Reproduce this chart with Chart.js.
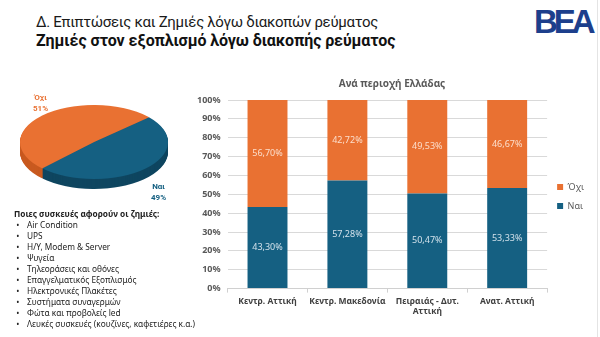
<!DOCTYPE html>
<html>
<head>
<meta charset="utf-8">
<script src="https://cdn.jsdelivr.net/npm/chart.js@4"></script>
<style>
  body { margin: 0; background: #fff; font-family: Roboto, sans-serif; }
  #page { position: relative; width: 600px; height: 337px; overflow: hidden; background: #fff; }
  .abs { position: absolute; white-space: nowrap; }
  #t1 { left: 36px; top: 13px; font-size: 15px; color: #1a1a1a; letter-spacing: -0.3px; }
  #t2 { left: 36px; top: 31px; font-size: 16px; font-weight: bold; color: #111; letter-spacing: -0.1px; }
  #logo { left: 534px; top: 3px; font-size: 33px; font-weight: 900; color: #1d3f8c; letter-spacing: -4px; font-family: "Liberation Sans", sans-serif; }
  #edge { left: 597px; top: 0; width: 1px; height: 337px; background: #e4e4e4; }
  #pieBox { left: 20px; top: 105px; width: 148px; height: 84px; }
  #pieCanvas { transform: scaleY(0.5); transform-origin: 0 0; }
  .plab { font-size: 8px; font-weight: bold; line-height: 11px; text-align: center; }
  #list { left: 14px; top: 208px; font-size: 8.3px; color: #222; font-family: "Noto Sans", sans-serif; }
  #list b { display: block; height: 11px; line-height: 11px; }
  #list div { height: 11px; line-height: 11px; }
  #list span.bul { display: inline-block; width: 13px; }
  #barBox { left: 180px; top: 72px; width: 414px; height: 253px; }
</style>
</head>
<body>
<div id="page">
  <div id="t1" class="abs">Δ. Επιπτώσεις και Ζημιές λόγω διακοπών ρεύματος</div>
  <div id="t2" class="abs">Ζημιές στον εξοπλισμό λόγω διακοπής ρεύματος</div>
  <div id="logo" class="abs">BEA</div>
  <div id="edge" class="abs"></div>

  <div id="pieBox" class="abs"><canvas id="pieCanvas" width="148" height="168"></canvas></div>
  <div class="abs plab" style="left:33px;top:92px;color:#E97132">Όχι<br>51%</div>
  <div class="abs plab" style="left:151px;top:181px;color:#156082">Ναι<br>49%</div>

  <div id="list" class="abs"></div>

  <div id="barBox" class="abs"><canvas id="barCanvas"></canvas></div>
</div>
<script>
// Δεδομένα
const pieLabels = ['Ναι', 'Όχι'];
const pieValues = [49, 51];

const regions = ['Κεντρ. Αττική', 'Κεντρ. Μακεδονία', ['Πειραιάς - Δυτ.', 'Αττική'], 'Ανατ. Αττική'];
const naiValues = [43.30, 57.28, 50.47, 53.33];
const oxiValues = [56.70, 42.72, 49.53, 46.67];

const yTicks = [0, 10, 20, 30, 40, 50, 60, 70, 80, 90, 100];

const devices = [
    'Air Condition',
    'UPS',
    'H/Y, Modem & Server',
    'Ψυγεία',
    'Τηλεοράσεις και οθόνες',
    'Επαγγελματικός Εξοπλισμός',
    'Ηλεκτρονικές Πλακέτες',
    'Συστήματα συναγερμών',
    'Φώτα και προβολείς led',
    'Λευκές συσκευές (κουζίνες, καφετιέρες κ.α.)'
];

const BLUE = '#156082';
const ORANGE = '#E97132';

// λίστα συσκευών
const list = document.getElementById('list');
list.innerHTML = '<b>Ποιες συσκευές αφορούν οι ζημιές:</b>' +
    devices.map(d => `<div><span class="bul">&nbsp;•</span>${d}</div>`).join('');

// 3D πλευρά της πίτας
const pieDepth = {
    id: 'pieDepth',
    beforeDatasetsDraw(chart) {
        const ctx = chart.ctx;
        const meta = chart.getDatasetMeta(0);
        const sideColors = ['#0f4660', '#c95a20'];
        for (let d = 20; d >= 1; d--) {
            meta.data.forEach((arc, i) => {
                const p = arc.getProps(['x', 'y', 'startAngle', 'endAngle', 'outerRadius']);
                ctx.fillStyle = sideColors[i];
                ctx.beginPath();
                ctx.moveTo(p.x, p.y + d);
                ctx.arc(p.x, p.y + d, p.outerRadius, p.startAngle, p.endAngle);
                ctx.closePath();
                ctx.fill();
            });
        }
    }
};

new Chart(document.getElementById('pieCanvas'), {
    type: 'pie',
    data: {
        labels: pieLabels,
        datasets: [{
            data: pieValues,
            backgroundColor: [BLUE, ORANGE],
            borderWidth: 0
        }]
    },
    options: {
        responsive: false,
        animation: false,
        rotation: 48,
        layout: { padding: { bottom: 20 } },
        plugins: { legend: { display: false }, tooltip: { enabled: false } }
    },
    plugins: [pieDepth]
});

// ετικέτες τιμών μέσα στις μπάρες
const barLabels = {
    id: 'barLabels',
    afterDatasetsDraw(chart) {
        const ctx = chart.ctx;
        ctx.save();
        ctx.font = '9px "Noto Sans", sans-serif';
        ctx.textAlign = 'center';
        ctx.textBaseline = 'middle';
        chart.data.datasets.forEach((ds, di) => {
            const meta = chart.getDatasetMeta(di);
            ctx.fillStyle = di === 0 ? 'rgba(220,232,240,0.95)' : 'rgba(253,228,212,0.95)';
            meta.data.forEach((bar, i) => {
                const p = bar.getProps(['x', 'y', 'base']);
                const txt = ds.data[i].toFixed(2).replace('.', ',') + '%';
                ctx.fillText(txt, p.x, (p.y + p.base) / 2);
            });
        });
        ctx.restore();
    }
};

Chart.defaults.font.family = '"Noto Sans", sans-serif';

new Chart(document.getElementById('barCanvas'), {
    type: 'bar',
    data: {
        labels: regions,
        datasets: [
            { label: 'Ναι', data: naiValues, backgroundColor: BLUE },
            { label: 'Όχι', data: oxiValues, backgroundColor: ORANGE }
        ]
    },
    options: {
        responsive: true,
        maintainAspectRatio: false,
        animation: false,
        barPercentage: 0.5,
        categoryPercentage: 1,
        layout: { padding: { left: 10, right: 0, top: 0, bottom: 4 } },
        scales: {
            x: {
                stacked: true,
                grid: { display: true, drawOnChartArea: false, color: '#d0d0d0', tickLength: 4 },
                border: { color: '#d0d0d0' },
                ticks: { color: '#404040', font: { size: 8.5, weight: 'bold' }, padding: 4, maxRotation: 0, autoSkip: false }
            },
            y: {
                stacked: true,
                min: 0,
                max: 100,
                afterBuildTicks(axis) { axis.ticks = yTicks.map(v => ({ value: v })); },
                grid: { color: '#d9d9d9', drawTicks: false },
                border: { display: false },
                ticks: { color: '#595959', font: { size: 9, weight: 'bold' }, padding: 7, callback: v => v + '%' }
            }
        },
        plugins: {
            title: {
                display: true,
                text: 'Ανά περιοχή Ελλάδας',
                color: '#595959',
                font: { size: 10, weight: 'bold' },
                padding: { top: 6, bottom: 10 }
            },
            legend: {
                position: 'right',
                reverse: true,
                labels: { boxWidth: 6, boxHeight: 6, color: '#595959', font: { size: 9 }, padding: 10 }
            },
            tooltip: { enabled: false }
        }
    },
    plugins: [barLabels]
});
</script>
</body>
</html>
